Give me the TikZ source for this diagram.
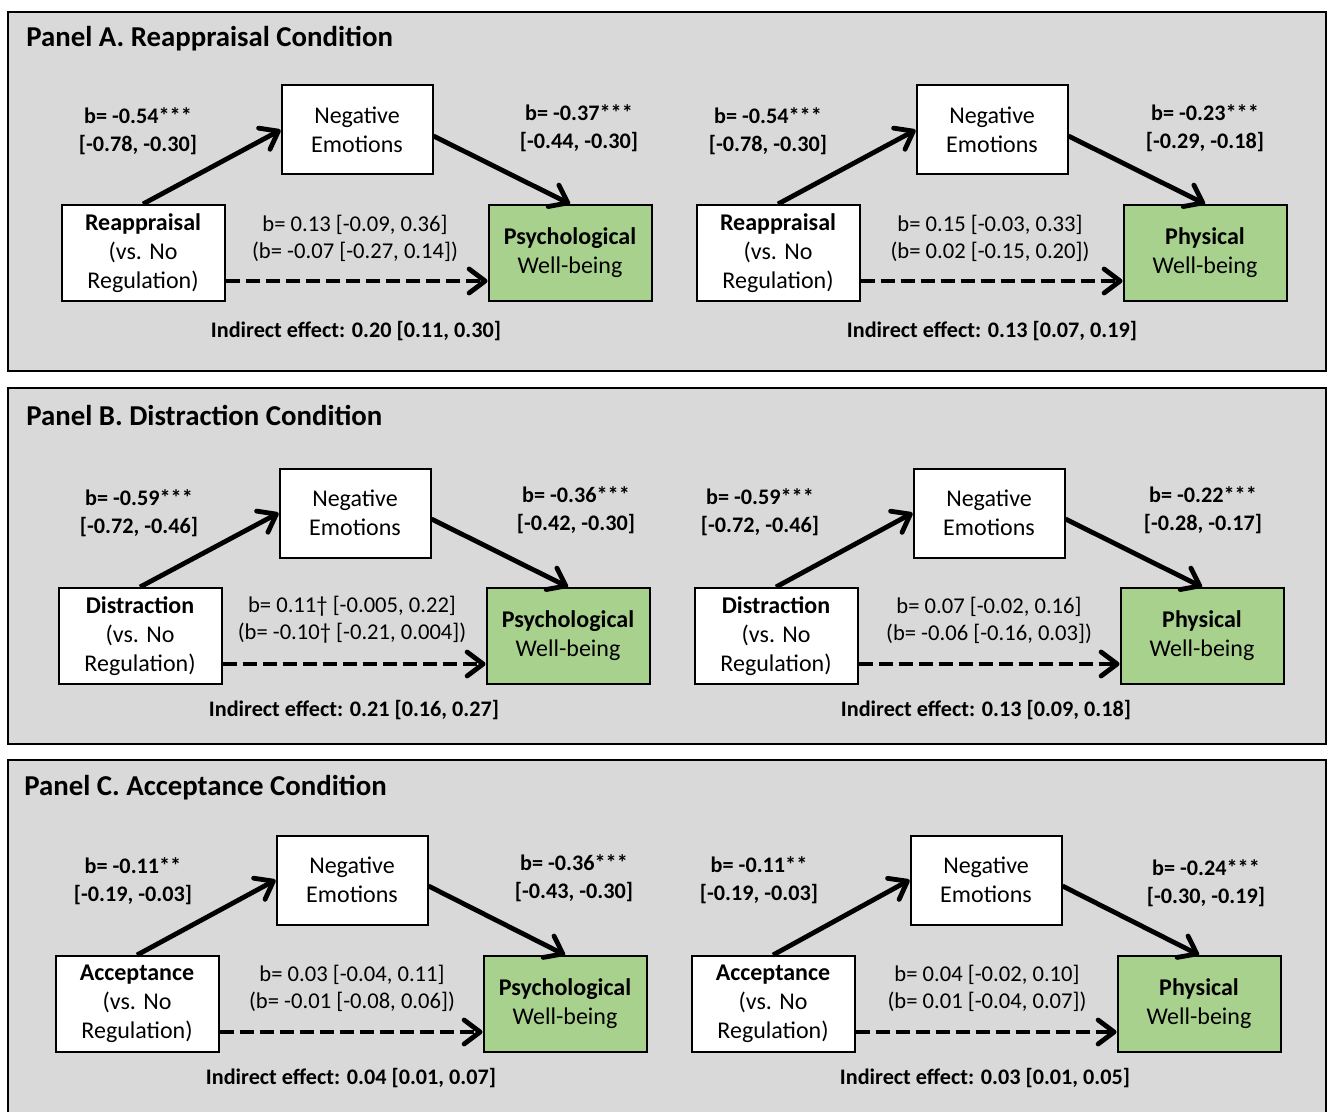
\documentclass[tikz,border=0pt]{standalone}
\usepackage{fontspec}
\setmainfont{Carlito}
\usetikzlibrary{arrows.meta}
\definecolor{panelgray}{RGB}{217,217,217}
\definecolor{wbgreen}{RGB}{169,209,142}

\begin{document}
\begin{tikzpicture}
  [x=0.5pt,y=-0.5pt]
      \tikzstyle{box_style} = [draw=black, line width=1pt, fill=white, align=center, inner sep=0pt, font=\fontsize{12}{14.5}\selectfont]
      \tikzstyle{side_style} = [box_style, minimum width=81.5pt, minimum height=48pt]
      \tikzstyle{mid_style} = [box_style, minimum width=75.5pt, minimum height=44.5pt]
      \tikzstyle{out_style} = [side_style, fill=wbgreen]
      \tikzstyle{edge_style} = [draw=black, line width=2.4pt, -{Straight Barb[length=8pt,width=12pt,round]}]
      \tikzstyle{dash_style} = [edge_style, dash pattern=on 7pt off 3pt]
      \tikzstyle{coef_style} = [align=center, inner sep=0pt, font=\fontsize{11.1}{14}\selectfont\bfseries]
      \tikzstyle{direct_style} = [align=center, inner sep=0pt, font=\fontsize{11.3}{13.5}\selectfont]
      \tikzstyle{panel_style} = [draw=black, line width=1pt, fill=panelgray]
      \tikzstyle{title_style} = [anchor=west, inner sep=0pt, font=\fontsize{14.4}{17}\selectfont\bfseries]
  \useasboundingbox (0,0) rectangle (1327,1112);
  \fill[white] (0,0) rectangle (1327,1112);
  % panels
  \draw[panel_style] (8,12) rectangle (1326,371);
  \draw[panel_style] (8,388) rectangle (1326,744);
  \draw[panel_style] (8,760) rectangle (1326,1130);
  \node[title_style] (titleA) at (26,39) {Panel A. Reappraisal Condition};
  \node[title_style] (titleB) at (26,415) {Panel B. Distraction Condition};
  \node[title_style] (titleC) at (24,788) {Panel C. Acceptance Condition};

  % panel A, psychological
  \node[side_style] (reA1) at (143,253) {\textbf{Reappraisal}\\(vs. No\\Regulation)};
  \node[mid_style] (neA1) at (357,130) {Negative\\Emotions};
  \node[out_style] (wbA1) at (570,253) {\textbf{Psychological}\\Well-being};
  \node[coef_style] (aA1) at (138,131) {b= -0.54***\\{[-0.78, -0.30]}};
  \node[coef_style] (bA1) at (579,128) {b= -0.37***\\{[-0.44, -0.30]}};
  \node[direct_style] (cA1) at (355,238) {b= 0.13 [-0.09, 0.36]\\(b= -0.07 [-0.27, 0.14])};
  \node[coef_style] (indA1) at (356,331) {Indirect effect: 0.20 [0.11, 0.30]};
  \draw[edge_style] (reA1.north) -- (neA1.west);
  \draw[edge_style] ([yshift=-3pt]neA1.east) -- (wbA1.north);
  \draw[dash_style] ([yshift=10.5pt]reA1.south east) -- ([yshift=10.5pt]wbA1.south west);

  % panel A, physical
  \node[side_style] (reA2) at (778,253) {\textbf{Reappraisal}\\(vs. No\\Regulation)};
  \node[mid_style] (neA2) at (992,130) {Negative\\Emotions};
  \node[out_style] (wbA2) at (1205,253) {\textbf{Physical}\\Well-being};
  \node[coef_style] (aA2) at (768,131) {b= -0.54***\\{[-0.78, -0.30]}};
  \node[coef_style] (bA2) at (1205,128) {b= -0.23***\\{[-0.29, -0.18]}};
  \node[direct_style] (cA2) at (990,238) {b= 0.15 [-0.03, 0.33]\\(b= 0.02 [-0.15, 0.20])};
  \node[coef_style] (indA2) at (992,331) {Indirect effect: 0.13 [0.07, 0.19]};
  \draw[edge_style] (reA2.north) -- (neA2.west);
  \draw[edge_style] ([yshift=-3pt]neA2.east) -- (wbA2.north);
  \draw[dash_style] ([yshift=10.5pt]reA2.south east) -- ([yshift=10.5pt]wbA2.south west);

  % panel B, psychological
  \node[side_style] (reB1) at (140,636) {\textbf{Distraction}\\(vs. No\\Regulation)};
  \node[mid_style] (neB1) at (355,513) {Negative\\Emotions};
  \node[out_style] (wbB1) at (568,636) {\textbf{Psychological}\\Well-being};
  \node[coef_style] (aB1) at (139,513) {b= -0.59***\\{[-0.72, -0.46]}};
  \node[coef_style] (bB1) at (576,510) {b= -0.36***\\{[-0.42, -0.30]}};
  \node[direct_style] (cB1) at (352,620) {b= 0.11\textdagger{} [-0.005, 0.22]\\(b= -0.10\textdagger{} [-0.21, 0.004])};
  \node[coef_style] (indB1) at (354,710) {Indirect effect: 0.21 [0.16, 0.27]};
  \draw[edge_style] (reB1.north) -- (neB1.west);
  \draw[edge_style] ([yshift=-3pt]neB1.east) -- (wbB1.north);
  \draw[dash_style] ([yshift=10.5pt]reB1.south east) -- ([yshift=10.5pt]wbB1.south west);

  % panel B, physical
  \node[side_style] (reB2) at (776,636) {\textbf{Distraction}\\(vs. No\\Regulation)};
  \node[mid_style] (neB2) at (989,513) {Negative\\Emotions};
  \node[out_style] (wbB2) at (1202,636) {\textbf{Physical}\\Well-being};
  \node[coef_style] (aB2) at (760,512) {b= -0.59***\\{[-0.72, -0.46]}};
  \node[coef_style] (bB2) at (1203,510) {b= -0.22***\\{[-0.28, -0.17]}};
  \node[direct_style] (cB2) at (989,620) {b= 0.07 [-0.02, 0.16]\\(b= -0.06 [-0.16, 0.03])};
  \node[coef_style] (indB2) at (986,710) {Indirect effect: 0.13 [0.09, 0.18]};
  \draw[edge_style] (reB2.north) -- (neB2.west);
  \draw[edge_style] ([yshift=-3pt]neB2.east) -- (wbB2.north);
  \draw[dash_style] ([yshift=10.5pt]reB2.south east) -- ([yshift=10.5pt]wbB2.south west);

  % panel C, psychological
  \node[side_style] (reC1) at (137,1004) {\textbf{Acceptance}\\(vs. No\\Regulation)};
  \node[mid_style] (neC1) at (352,880) {Negative\\Emotions};
  \node[out_style] (wbC1) at (565,1004) {\textbf{Psychological}\\Well-being};
  \node[coef_style] (aC1) at (133,881) {b= -0.11**\\{[-0.19, -0.03]}};
  \node[coef_style] (bC1) at (574,878) {b= -0.36***\\{[-0.43, -0.30]}};
  \node[direct_style] (cC1) at (352,988) {b= 0.03 [-0.04, 0.11]\\(b= -0.01 [-0.08, 0.06])};
  \node[coef_style] (indC1) at (351,1078) {Indirect effect: 0.04 [0.01, 0.07]};
  \draw[edge_style] (reC1.north) -- (neC1.west);
  \draw[edge_style] ([yshift=-3pt]neC1.east) -- (wbC1.north);
  \draw[dash_style] ([yshift=10.5pt]reC1.south east) -- ([yshift=10.5pt]wbC1.south west);

  % panel C, physical
  \node[side_style] (reC2) at (773,1004) {\textbf{Acceptance}\\(vs. No\\Regulation)};
  \node[mid_style] (neC2) at (986,880) {Negative\\Emotions};
  \node[out_style] (wbC2) at (1199,1004) {\textbf{Physical}\\Well-being};
  \node[coef_style] (aC2) at (759,880) {b= -0.11**\\{[-0.19, -0.03]}};
  \node[coef_style] (bC2) at (1206,883) {b= -0.24***\\{[-0.30, -0.19]}};
  \node[direct_style] (cC2) at (987,988) {b= 0.04 [-0.02, 0.10]\\(b= 0.01 [-0.04, 0.07])};
  \node[coef_style] (indC2) at (985,1078) {Indirect effect: 0.03 [0.01, 0.05]};
  \draw[edge_style] (reC2.north) -- (neC2.west);
  \draw[edge_style] ([yshift=-3pt]neC2.east) -- (wbC2.north);
  \draw[dash_style] ([yshift=10.5pt]reC2.south east) -- ([yshift=10.5pt]wbC2.south west);
\end{tikzpicture}
\end{document}
